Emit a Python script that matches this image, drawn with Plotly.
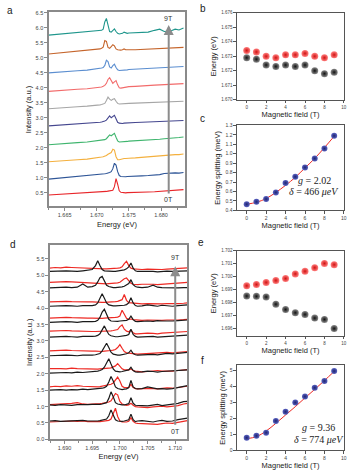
import plotly.graph_objects as go

# ---------------- panel a : PL spectra, 0T .. 9T ----------------
energy_a = [1.6625, 1.6640, 1.6655, 1.6670, 1.6685, 1.6695,
            1.67000, 1.67025, 1.67050, 1.67075, 1.67100, 1.67125, 1.67150,
            1.67175, 1.67200, 1.67225, 1.67250, 1.67275, 1.67300, 1.67325,
            1.67350, 1.67375, 1.67400, 1.67425, 1.67450, 1.67475, 1.67500,
            1.6760, 1.6770, 1.6780, 1.6790, 1.6798, 1.6805, 1.6815, 1.6822,
            1.6828, 1.6835]

a_0T = [0.42, 0.44, 0.45, 0.47, 0.48, 0.50, 0.50, 0.51, 0.52, 0.52, 0.53, 0.54, 0.54,
        0.55, 0.56, 0.57, 0.58, 0.70, 0.97, 0.78, 0.56, 0.51, 0.50, 0.49, 0.49, 0.50,
        0.50, 0.50, 0.51, 0.52, 0.53, 0.54, 0.55, 0.56, 0.57, 0.58, 0.60]
a_1T = [0.95, 0.98, 1.00, 1.02, 1.05, 1.07, 1.08, 1.09, 1.10, 1.11, 1.12, 1.13, 1.14,
        1.15, 1.17, 1.20, 1.30, 1.48, 1.42, 1.20, 1.07, 1.04, 1.03, 1.04, 1.03, 1.04,
        1.04, 1.05, 1.06, 1.07, 1.08, 1.10, 1.14, 1.16, 1.16, 1.15, 1.17]
a_2T = [1.53, 1.56, 1.58, 1.60, 1.62, 1.64, 1.66, 1.67, 1.68, 1.69, 1.70, 1.71, 1.74,
        1.78, 1.80, 1.84, 1.95, 1.92, 1.70, 1.60, 1.60, 1.62, 1.63, 1.64, 1.64, 1.65,
        1.65, 1.66, 1.68, 1.69, 1.70, 1.72, 1.74, 1.76, 1.77, 1.77, 1.79]
a_3T = [2.10, 2.13, 2.15, 2.17, 2.19, 2.21, 2.22, 2.23, 2.24, 2.25, 2.26, 2.27, 2.30,
        2.36, 2.43, 2.40, 2.45, 2.48, 2.35, 2.23, 2.19, 2.19, 2.20, 2.20, 2.21, 2.21,
        2.22, 2.23, 2.24, 2.26, 2.27, 2.28, 2.30, 2.31, 2.33, 2.34, 2.36]
a_4T = [2.73, 2.75, 2.77, 2.79, 2.80, 2.82, 2.83, 2.84, 2.85, 2.86, 2.87, 2.89, 2.92,
        2.98, 3.06, 3.00, 3.04, 3.08, 2.97, 2.85, 2.82, 2.81, 2.81, 2.82, 2.82, 2.83,
        2.83, 2.84, 2.85, 2.86, 2.87, 2.88, 2.88, 2.89, 2.90, 2.90, 2.91]
a_5T = [3.30, 3.33, 3.35, 3.37, 3.39, 3.40, 3.41, 3.42, 3.43, 3.44, 3.45, 3.48, 3.58,
        3.69, 3.62, 3.58, 3.62, 3.64, 3.55, 3.48, 3.46, 3.46, 3.46, 3.47, 3.47, 3.48,
        3.48, 3.49, 3.50, 3.51, 3.52, 3.52, 3.53, 3.53, 3.54, 3.54, 3.55]
a_6T = [3.88, 3.91, 3.93, 3.95, 3.97, 3.99, 4.00, 4.01, 4.02, 4.03, 4.05, 4.08, 4.15,
        4.28, 4.34, 4.22, 4.15, 4.20, 4.24, 4.10, 4.00, 3.99, 4.00, 4.01, 4.02, 4.03,
        4.04, 4.05, 4.07, 4.08, 4.09, 4.10, 4.11, 4.12, 4.13, 4.13, 4.14]
a_7T = [4.50, 4.53, 4.55, 4.57, 4.59, 4.61, 4.62, 4.63, 4.65, 4.66, 4.68, 4.75, 4.92,
        4.88, 4.70, 4.66, 4.74, 4.79, 4.68, 4.60, 4.58, 4.58, 4.59, 4.59, 4.60, 4.60,
        4.61, 4.62, 4.63, 4.64, 4.65, 4.66, 4.67, 4.68, 4.69, 4.70, 4.71]
a_8T = [5.13, 5.16, 5.19, 5.22, 5.24, 5.26, 5.28, 5.29, 5.30, 5.32, 5.36, 5.58, 5.55,
        5.35, 5.32, 5.38, 5.44, 5.40, 5.30, 5.27, 5.26, 5.26, 5.27, 5.30, 5.27, 5.26,
        5.27, 5.27, 5.28, 5.29, 5.30, 5.31, 5.32, 5.33, 5.34, 5.34, 5.35]
a_9T = [5.76, 5.79, 5.81, 5.84, 5.86, 5.88, 5.89, 5.90, 5.91, 5.92, 5.96, 6.20, 6.32,
        6.05, 5.88, 5.86, 5.92, 5.97, 5.88, 5.82, 5.80, 5.80, 5.82, 5.86, 5.83, 5.82,
        5.83, 5.84, 5.85, 5.86, 5.92, 5.96, 5.88, 5.90, 5.96, 5.93, 6.00]

colors_a = ['#e8262a', '#2e5597', '#f4b03e', '#3fb56e', '#45478f',
            '#a6a6a6', '#f26b6b', '#5b8ed0', '#c5652c', '#1f968c']

# ---------------- panel b / c : exciton 1 ----------------
field = [0, 1, 2, 3, 4, 5, 6, 7, 8, 9]
b_red = [1.6734, 1.6733, 1.6730, 1.6729, 1.6731, 1.6731, 1.6732, 1.6730, 1.6729, 1.6731]
b_black = [1.6729, 1.6728, 1.6724, 1.6723, 1.6724, 1.6723, 1.6724, 1.6720, 1.6718, 1.6719]
c_split = [0.465, 0.49, 0.52, 0.59, 0.69, 0.755, 0.855, 0.95, 1.055, 1.19]
c_fit = [0.465, 0.485, 0.525, 0.59, 0.665, 0.75, 0.85, 0.95, 1.065, 1.185]

# ---------------- panel d : red / black polarisation spectra ----------------
energy_d = [1.6873, 1.6883, 1.6893, 1.6903, 1.6913, 1.6923, 1.6933, 1.6942, 1.6950,
            1.6956, 1.6960, 1.6964, 1.6968, 1.6972, 1.6976, 1.6980, 1.6984, 1.6988,
            1.6992, 1.6996, 1.7000, 1.7004, 1.7008, 1.7012, 1.7016, 1.7020, 1.7024,
            1.7028, 1.7032, 1.7040, 1.7050, 1.7060, 1.7068, 1.7076, 1.7085, 1.7095,
            1.7105, 1.7115, 1.7122]

d_black = [
    [0.56, 0.57, 0.55, 0.56, 0.58, 0.57, 0.58, 0.56, 0.55, 0.56, 0.56, 0.57, 0.58, 0.59, 0.62, 0.72, 0.90, 0.74, 0.60, 0.56,
     0.55, 0.55, 0.56, 0.57, 0.60, 0.77, 0.60, 0.54, 0.56, 0.57, 0.55, 0.53, 0.56, 0.58, 0.55, 0.56, 0.60, 0.64, 0.65],
    [1.05, 1.04, 1.06, 1.05, 1.04, 1.06, 1.05, 1.06, 1.07, 1.06, 1.07, 1.07, 1.08, 1.09, 1.12, 1.25, 1.45, 1.30, 1.12, 1.08,
     1.06, 1.05, 1.05, 1.06, 1.09, 1.27, 1.10, 1.04, 1.03, 1.03, 1.02, 1.05, 1.07, 1.03, 1.05, 1.06, 1.10, 1.15, 1.16],
    [1.50, 1.51, 1.52, 1.50, 1.52, 1.51, 1.53, 1.52, 1.53, 1.53, 1.54, 1.55, 1.56, 1.58, 1.62, 1.75, 1.92, 1.78, 1.60, 1.55,
     1.53, 1.52, 1.53, 1.54, 1.58, 1.80, 1.60, 1.55, 1.54, 1.55, 1.60, 1.56, 1.54, 1.55, 1.53, 1.55, 1.58, 1.62, 1.64],
    [2.02, 2.03, 2.02, 2.04, 2.03, 2.05, 2.04, 2.05, 2.06, 2.07, 2.08, 2.10, 2.13, 2.20, 2.33, 2.46, 2.30, 2.15, 2.08, 2.06,
     2.06, 2.07, 2.08, 2.10, 2.12, 2.20, 2.10, 2.06, 2.05, 2.06, 2.08, 2.07, 2.05, 2.07, 2.08, 2.09, 2.10, 2.12, 2.12],
    [2.55, 2.56, 2.55, 2.57, 2.56, 2.55, 2.57, 2.56, 2.57, 2.58, 2.59, 2.62, 2.70, 2.82, 2.93, 2.80, 2.66, 2.60, 2.58, 2.57,
     2.57, 2.58, 2.59, 2.61, 2.64, 2.72, 2.62, 2.58, 2.57, 2.58, 2.60, 2.59, 2.58, 2.60, 2.62, 2.61, 2.62, 2.64, 2.65],
    [3.12, 3.13, 3.12, 3.14, 3.13, 3.12, 3.14, 3.13, 3.14, 3.15, 3.17, 3.22, 3.34, 3.46, 3.32, 3.20, 3.16, 3.14, 3.13, 3.13,
     3.14, 3.14, 3.15, 3.17, 3.20, 3.36, 3.20, 3.14, 3.12, 3.13, 3.15, 3.14, 3.12, 3.13, 3.15, 3.14, 3.16, 3.17, 3.18],
    [3.57, 3.58, 3.57, 3.59, 3.58, 3.57, 3.59, 3.58, 3.59, 3.60, 3.63, 3.72, 3.88, 3.97, 3.80, 3.66, 3.61, 3.60, 3.60, 3.60,
     3.61, 3.61, 3.62, 3.63, 3.66, 3.76, 3.65, 3.60, 3.59, 3.60, 3.61, 3.60, 3.62, 3.61, 3.60, 3.61, 3.62, 3.63, 3.64],
    [4.06, 4.07, 4.06, 4.08, 4.07, 4.06, 4.08, 4.07, 4.08, 4.10, 4.16, 4.30, 4.44, 4.30, 4.16, 4.10, 4.08, 4.07, 4.07, 4.07,
     4.08, 4.08, 4.09, 4.11, 4.16, 4.32, 4.16, 4.08, 4.06, 4.07, 4.10, 4.08, 4.06, 4.09, 4.07, 4.06, 4.08, 4.09, 4.10],
    [4.62, 4.63, 4.62, 4.64, 4.63, 4.64, 4.74, 4.64, 4.66, 4.70, 4.80, 4.93, 4.97, 4.82, 4.70, 4.66, 4.64, 4.63, 4.63, 4.63,
     4.64, 4.65, 4.67, 4.70, 4.75, 4.87, 4.72, 4.66, 4.64, 4.63, 4.64, 4.70, 4.64, 4.63, 4.62, 4.61, 4.62, 4.63, 4.63],
    [5.12, 5.13, 5.12, 5.14, 5.13, 5.12, 5.14, 5.15, 5.18, 5.30, 5.45, 5.30, 5.18, 5.14, 5.13, 5.12, 5.12, 5.12, 5.12, 5.13,
     5.14, 5.15, 5.17, 5.20, 5.26, 5.38, 5.22, 5.14, 5.12, 5.12, 5.13, 5.12, 5.11, 5.12, 5.13, 5.12, 5.13, 5.14, 5.14],
]
d_red = [
    [0.53, 0.54, 0.53, 0.55, 0.56, 0.55, 0.56, 0.54, 0.53, 0.53, 0.54, 0.54, 0.55, 0.56, 0.57, 0.58, 0.62, 0.78, 0.95, 0.70,
     0.56, 0.53, 0.52, 0.53, 0.55, 0.66, 0.55, 0.50, 0.49, 0.48, 0.49, 0.47, 0.46, 0.48, 0.50, 0.49, 0.52, 0.55, 0.57],
    [1.06, 1.07, 1.06, 1.08, 1.10, 1.12, 1.08, 1.07, 1.07, 1.08, 1.08, 1.09, 1.10, 1.11, 1.12, 1.14, 1.18, 1.28, 1.40, 1.36,
     1.16, 1.08, 1.05, 1.04, 1.05, 1.10, 1.04, 1.00, 0.99, 0.98, 0.97, 0.99, 1.00, 1.01, 0.99, 1.00, 1.03, 1.08, 1.10],
    [1.60, 1.62, 1.61, 1.63, 1.62, 1.64, 1.62, 1.61, 1.60, 1.60, 1.60, 1.61, 1.62, 1.63, 1.64, 1.66, 1.68, 1.72, 1.82, 1.90,
     1.78, 1.62, 1.58, 1.57, 1.58, 1.68, 1.58, 1.55, 1.54, 1.55, 1.56, 1.55, 1.54, 1.56, 1.57, 1.56, 1.58, 1.60, 1.62],
    [2.16, 2.17, 2.16, 2.15, 2.17, 2.16, 2.15, 2.14, 2.14, 2.14, 2.14, 2.15, 2.15, 2.16, 2.16, 2.17, 2.18, 2.20, 2.24, 2.31,
     2.24, 2.15, 2.12, 2.11, 2.12, 2.15, 2.10, 2.08, 2.07, 2.06, 2.07, 2.09, 2.10, 2.08, 2.07, 2.08, 2.10, 2.12, 2.13],
    [2.70, 2.71, 2.70, 2.72, 2.71, 2.70, 2.71, 2.70, 2.69, 2.69, 2.68, 2.68, 2.68, 2.69, 2.69, 2.70, 2.71, 2.72, 2.74, 2.80,
     2.89, 2.78, 2.68, 2.64, 2.63, 2.64, 2.62, 2.61, 2.60, 2.61, 2.62, 2.63, 2.62, 2.64, 2.65, 2.64, 2.66, 2.67, 2.68],
    [3.30, 3.31, 3.30, 3.32, 3.31, 3.30, 3.31, 3.30, 3.29, 3.29, 3.29, 3.29, 3.29, 3.30, 3.30, 3.31, 3.31, 3.32, 3.33, 3.35,
     3.44, 3.49, 3.36, 3.30, 3.28, 3.33, 3.25, 3.22, 3.22, 3.23, 3.24, 3.23, 3.22, 3.24, 3.25, 3.24, 3.26, 3.28, 3.29],
    [3.70, 3.71, 3.70, 3.72, 3.71, 3.70, 3.71, 3.70, 3.70, 3.69, 3.69, 3.69, 3.69, 3.70, 3.70, 3.70, 3.71, 3.71, 3.72, 3.73,
     3.76, 3.94, 3.80, 3.69, 3.66, 3.67, 3.65, 3.64, 3.63, 3.63, 3.64, 3.63, 3.62, 3.63, 3.64, 3.63, 3.64, 3.65, 3.66],
    [4.19, 4.20, 4.19, 4.21, 4.20, 4.19, 4.20, 4.19, 4.19, 4.18, 4.18, 4.18, 4.18, 4.18, 4.18, 4.19, 4.19, 4.19, 4.20, 4.21,
     4.23, 4.26, 4.42, 4.24, 4.17, 4.16, 4.15, 4.14, 4.13, 4.13, 4.14, 4.13, 4.12, 4.13, 4.14, 4.13, 4.14, 4.15, 4.16],
    [4.79, 4.80, 4.79, 4.81, 4.80, 4.79, 4.78, 4.77, 4.76, 4.75, 4.74, 4.74, 4.74, 4.74, 4.74, 4.75, 4.75, 4.75, 4.76, 4.77,
     4.79, 4.84, 4.90, 4.92, 4.84, 4.76, 4.73, 4.72, 4.72, 4.73, 4.74, 4.73, 4.72, 4.73, 4.74, 4.75, 4.76, 4.78, 4.79],
    [5.22, 5.24, 5.23, 5.25, 5.24, 5.23, 5.22, 5.21, 5.21, 5.20, 5.20, 5.20, 5.20, 5.20, 5.20, 5.20, 5.20, 5.21, 5.21, 5.22,
     5.23, 5.26, 5.36, 5.43, 5.30, 5.22, 5.20, 5.19, 5.18, 5.18, 5.19, 5.18, 5.17, 5.18, 5.19, 5.20, 5.21, 5.22, 5.23],
]

# ---------------- panel e / f : exciton 2 ----------------
e_red = [1.6993, 1.6994, 1.69956, 1.69971, 1.69986, 1.70022, 1.70042, 1.7007, 1.70103, 1.70093]
e_black = [1.69851, 1.69849, 1.69844, 1.69788, 1.69747, 1.69722, 1.69709, 1.69681, 1.69671, 1.6960]
f_split = [0.78, 0.9, 1.1, 1.83, 2.4, 2.98, 3.35, 3.9, 4.32, 4.94]
f_fit = [0.72, 0.85, 1.2, 1.68, 2.2, 2.72, 3.27, 3.8, 4.35, 4.92]

W, H = 355, 473
FONT = 'Arial, Liberation Sans, sans-serif'
SERIF = 'Liberation Serif, DejaVu Serif, serif'
AXC = '#555555'


def xdom(a, b):
    return [a / W, b / W]


def ydom(top, bottom):
    return [1 - bottom / H, 1 - top / H]


fig = go.Figure()

for i, ys in enumerate([a_0T, a_1T, a_2T, a_3T, a_4T, a_5T, a_6T, a_7T, a_8T, a_9T]):
    fig.add_trace(go.Scatter(x=energy_a, y=ys, mode='lines', xaxis='x', yaxis='y',
                             line=dict(color=colors_a[i], width=1.1), showlegend=False))

for i in range(len(d_black)):
    fig.add_trace(go.Scatter(x=energy_d, y=d_red[i], mode='lines', xaxis='x4', yaxis='y4',
                             line=dict(color='#ee2a24', width=1.2), showlegend=False))
    fig.add_trace(go.Scatter(x=energy_d, y=d_black[i], mode='lines', xaxis='x4', yaxis='y4',
                             line=dict(color='#1a1a1a', width=1.2), showlegend=False))


def spheres(x, y, c0, c1, xa, ya, size=7):
    return go.Scatter(x=x, y=y, mode='markers', xaxis=xa, yaxis=ya, showlegend=False,
                      marker=dict(size=size, color=c0, line=dict(width=0),
                                  gradient=dict(type='radial', color=c1)))


fig.add_trace(spheres(field, b_red, '#ff8080', '#d01010', 'x2', 'y2'))
fig.add_trace(spheres(field, b_black, '#8a8a8a', '#101010', 'x2', 'y2'))
fig.add_trace(go.Scatter(x=field, y=c_fit, mode='lines', xaxis='x3', yaxis='y3', showlegend=False,
                         line=dict(color='#ee2a24', width=1, shape='spline')))
fig.add_trace(spheres(field, c_split, '#5a62c0', '#1c2270', 'x3', 'y3', size=6))
fig.add_trace(spheres(field, e_red, '#ff8080', '#d01010', 'x5', 'y5'))
fig.add_trace(spheres(field, e_black, '#8a8a8a', '#101010', 'x5', 'y5'))
fig.add_trace(go.Scatter(x=field, y=f_fit, mode='lines', xaxis='x6', yaxis='y6', showlegend=False,
                         line=dict(color='#ee2a24', width=1, shape='spline')))
fig.add_trace(spheres(field, f_split, '#5a62c0', '#1c2270', 'x6', 'y6', size=6))


def axis(dom, anchor, rng, dtick, fmt, title, fs, tfs, lc=AXC, lw=1, minor=None, standoff=3):
    d = dict(domain=dom, anchor=anchor, range=rng, dtick=dtick, tickformat=fmt,
             showline=True, linecolor=lc, linewidth=lw, mirror=True, ticks='outside',
             ticklen=2.5, tickwidth=0.8, tickcolor=lc, showgrid=False, zeroline=False,
             tickfont=dict(size=tfs, color='#444444'),
             title=dict(text=title, font=dict(size=fs, color='#222222'), standoff=standoff))
    if minor:
        d['minor'] = dict(dtick=minor, ticklen=1.5, tickcolor=lc, ticks='outside', showgrid=False)
    return d


left_a = xdom(49, 187)
left_d = xdom(50, 189)
right = xdom(239, 347)
frange = [-1, 10.02]

fig.update_layout(
    width=W, height=H, margin=dict(l=0, r=0, t=0, b=0),
    plot_bgcolor='white', paper_bgcolor='white',
    font=dict(family=FONT, color='#333333'),
    xaxis=axis(left_a, 'y', [1.6625, 1.6838], 0.005, '.3f', 'Energy (eV)', 7.5, 5.5,
               lc='#8a8a8a', lw=1.5, minor=0.0025, standoff=5),
    yaxis=axis(ydom(9.5, 206), 'x', [0.04, 6.52], 0.5, '.1f', 'Intensity (a.u.)', 7.5, 5.5,
               lc='#8a8a8a', lw=1.5),
    xaxis2=axis(right, 'y2', frange, 2, 'd', 'Magnetic field (T)', 7.5, 4.5, standoff=1),
    yaxis2=axis(ydom(10, 98), 'x2', [1.670, 1.676], 0.001, '.3f', 'Energy (eV)', 7.5, 4.5),
    xaxis3=axis(right, 'y3', frange, 2, 'd', 'Magnetic field (T)', 7.5, 5, standoff=1),
    yaxis3=axis(ydom(124, 210), 'x3', [0.4, 1.3], 0.1, '.1f', 'Energy splitting (meV)', 7.5, 5),
    xaxis4=axis(left_d, 'y4', [1.6873, 1.7122], 0.005, '.3f', 'Energy (eV)', 7.5, 5.5,
                lc='#8a8a8a', lw=1.5, minor=0.0025, standoff=4),
    yaxis4=axis(ydom(245, 442), 'x4', [0, 5.93], 0.5, '.1f', 'Intensity (a.u.)', 7.5, 5.5,
                lc='#8a8a8a', lw=1.5),
    xaxis5=axis(right, 'y5', frange, 2, 'd', 'Magnetic field (T)', 7.5, 4.5, standoff=1),
    yaxis5=axis(ydom(251, 337), 'x5', [1.69545, 1.702], 0.001, '.3f', 'Energy (eV)', 7.5, 4.5),
    xaxis6=axis(right, 'y6', frange, 2, 'd', 'Magnetic field (T)', 7.5, 5, standoff=1),
    yaxis6=axis(ydom(367, 453), 'x6', [0, 5.3], 1, 'd', 'Energy splitting (meV)', 7.5, 5),
)

ann = []
for txt, x, y in [('a', 10, 8), ('b', 205, 6), ('c', 204, 117),
                  ('d', 13, 245), ('e', 203, 243), ('f', 204, 362)]:
    ann.append(dict(text=txt, x=x / W, y=1 - y / H, xref='paper', yref='paper', showarrow=False,
                    font=dict(size=10, color='#222222'), xanchor='center', yanchor='middle'))

# field arrows in a and d
ann.append(dict(x=1.6812, y=6.1, ax=1.6812, ay=0.42, xref='x', yref='y', axref='x', ayref='y',
                showarrow=True, arrowhead=2, arrowsize=1, arrowwidth=2, arrowcolor='#8c8c8c', text=''))
ann.append(dict(x=1.6812, y=6.3, xref='x', yref='y', text='9T', showarrow=False,
                font=dict(size=7, color='#333333')))
ann.append(dict(x=1.6812, y=0.28, xref='x', yref='y', text='0T', showarrow=False,
                font=dict(size=7, color='#333333')))
ann.append(dict(x=1.7100, y=5.28, ax=1.7100, ay=0.4, xref='x4', yref='y4', axref='x4', ayref='y4',
                showarrow=True, arrowhead=2, arrowsize=1, arrowwidth=2, arrowcolor='#8c8c8c', text=''))
ann.append(dict(x=1.7100, y=5.55, xref='x4', yref='y4', text='9T', showarrow=False,
                font=dict(size=7, color='#333333')))
ann.append(dict(x=1.7100, y=0.25, xref='x4', yref='y4', text='0T', showarrow=False,
                font=dict(size=7, color='#333333')))

for txt, x, y, ref in [('<i>g</i> = 2.02', 6.94, 0.714, '3'),
                       ('<i>δ</i> = 466 <i>μeV</i>', 6.94, 0.599, '3'),
                       ('<i>g</i> = 9.36', 7.42, 1.42, '6'),
                       ('<i>δ</i> = 774 <i>μeV</i>', 7.42, 0.70, '6')]:
    ann.append(dict(text=txt, x=x, y=y, xref='x' + ref, yref='y' + ref, showarrow=False,
                    font=dict(size=10, family=SERIF, color='#222222')))

fig.update_layout(annotations=ann)

fig.write_html("out.html", config={'displayModeBar': False},
               post_script="document.body.style.margin='0px';")
